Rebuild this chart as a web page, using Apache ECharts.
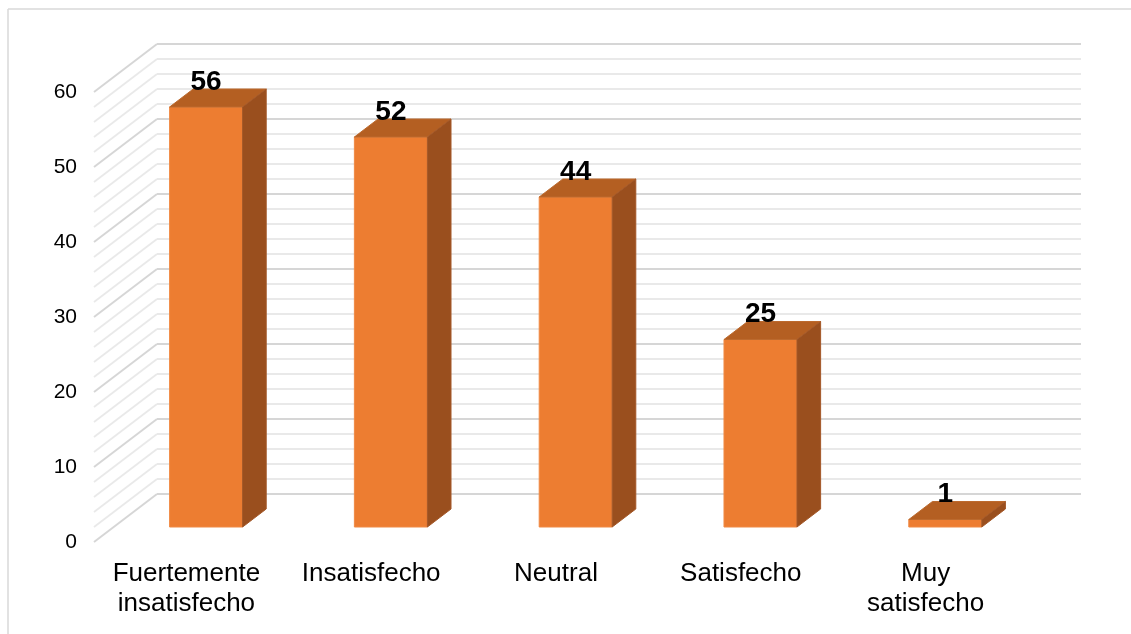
<!DOCTYPE html>
<html>
<head>
<meta charset="utf-8">
<style>
  html, body { margin: 0; padding: 0; background: #ffffff; }
  #chart { width: 1131px; height: 634px; }
</style>
<script src="https://cdn.jsdelivr.net/npm/echarts@6/dist/echarts.min.js"></script>
</head>
<body>
<div id="chart"></div>
<script>
// Survey answers and counts
const categories = ['Fuertemente\ninsatisfecho', 'Insatisfecho', 'Neutral', 'Satisfecho', 'Muy\nsatisfecho'];
const counts = [56, 52, 44, 25, 1];

// Value axis
const yMin = 0;
const yMax = 60;
const yStep = 10;
// Wall gridlines (major every 10, minor every 2)
const wallLines = [0, 2, 4, 6, 8, 10, 12, 14, 16, 18, 20, 22, 24, 26, 28, 30,
                   32, 34, 36, 38, 40, 42, 44, 46, 48, 50, 52, 54, 56, 58, 60];

// Oblique depth of the 3D box (back wall offset from the front plane)
const DEPTH = { dx: 63, dy: -48 };
const BAR_DEPTH_FROM = 0.3125;
const BAR_DEPTH_TO = 0.6875;
const BAR_WIDTH_RATIO = 0.395;

const FONT = '"Liberation Sans", Arial, sans-serif';

const chart = echarts.init(document.getElementById('chart'), null, { renderer: 'canvas' });

function wallItem(params, api) {
  const v = api.value(1);
  const cs = params.coordSys;
  const y = api.coord([0, v])[1];
  const x0 = cs.x;
  const x1 = cs.x + cs.width;
  const major = v % 10 === 0;
  const stroke = major ? '#d6d6d6' : '#e9e9e9';
  const lw = major ? 2 : 1.8;
  return {
    type: 'group',
    children: [
      { type: 'line', shape: { x1: x0, y1: y, x2: x0 + DEPTH.dx, y2: y + DEPTH.dy },
        style: { stroke: stroke, lineWidth: lw } },
      { type: 'line', shape: { x1: x0 + DEPTH.dx, y1: y + DEPTH.dy, x2: x1 + DEPTH.dx, y2: y + DEPTH.dy },
        style: { stroke: stroke, lineWidth: lw } }
    ]
  };
}

function barItem(params, api) {
  const idx = api.value(0);
  const v = api.value(1);
  const base = api.coord([idx, 0]);
  const top = api.coord([idx, v]);
  const band = api.size([1, 0])[0];
  const w = band * BAR_WIDTH_RATIO;
  const a = { dx: DEPTH.dx * BAR_DEPTH_FROM, dy: DEPTH.dy * BAR_DEPTH_FROM };
  const b = { dx: DEPTH.dx * BAR_DEPTH_TO, dy: DEPTH.dy * BAR_DEPTH_TO };
  const xl = base[0] - w / 2;
  const xr = base[0] + w / 2;
  const yb = base[1];
  const yt = top[1];
  return {
    type: 'group',
    children: [
      { type: 'rect',
        shape: { x: xl + a.dx, y: yt + a.dy, width: w, height: yb - yt },
        style: { fill: '#ED7D31', stroke: '#F08A45', lineWidth: 1 } },
      { type: 'polygon',
        shape: { points: [[xl + a.dx, yt + a.dy], [xr + a.dx, yt + a.dy], [xr + b.dx, yt + b.dy], [xl + b.dx, yt + b.dy]] },
        style: { fill: '#B45F22', stroke: '#BC6A2E', lineWidth: 1 } },
      { type: 'polygon',
        shape: { points: [[xr + a.dx, yb + a.dy], [xr + a.dx, yt + a.dy], [xr + b.dx, yt + b.dy], [xr + b.dx, yb + b.dy]] },
        style: { fill: '#9A4F1E', stroke: '#A45828', lineWidth: 1 } },
      { type: 'text',
        style: { text: String(v), x: base[0] + a.dx, y: yt + b.dy + 7,
                 align: 'center', verticalAlign: 'bottom',
                 fontFamily: FONT, fontSize: 28, fontWeight: 'bold', fill: '#000000' } }
    ]
  };
}

chart.setOption({
  backgroundColor: '#ffffff',
  animation: false,
  grid: { left: 94, right: 113, top: 92, bottom: 92 },
  xAxis: {
    type: 'category',
    data: categories,
    boundaryGap: true,
    axisLine: { show: false },
    axisTick: { show: false },
    splitLine: { show: false },
    axisLabel: {
      interval: 0, margin: 17, color: '#000000',
      fontFamily: FONT, fontSize: 26, lineHeight: 30
    }
  },
  yAxis: {
    type: 'value',
    min: yMin, max: yMax, interval: yStep,
    axisLine: { show: false },
    axisTick: { show: false },
    splitLine: { show: false },
    axisLabel: { margin: 17, color: '#000000', fontFamily: FONT, fontSize: 21 }
  },
  graphic: [
    { type: 'line', shape: { x1: 8, y1: 9, x2: 1131, y2: 9 }, style: { stroke: '#d9d9d9', lineWidth: 1.5 } },
    { type: 'line', shape: { x1: 8, y1: 9, x2: 8, y2: 634 }, style: { stroke: '#d9d9d9', lineWidth: 1.5 } }
  ],
  series: [
    {
      type: 'custom',
      name: 'walls',
      coordinateSystem: 'cartesian2d',
      clip: false,
      silent: true,
      z: 1,
      data: wallLines.map(v => [0, v]),
      renderItem: wallItem
    },
    {
      type: 'custom',
      name: 'Respuestas',
      coordinateSystem: 'cartesian2d',
      clip: false,
      z: 2,
      data: counts.map((v, i) => [i, v]),
      renderItem: barItem
    }
  ]
});
</script>
</body>
</html>
